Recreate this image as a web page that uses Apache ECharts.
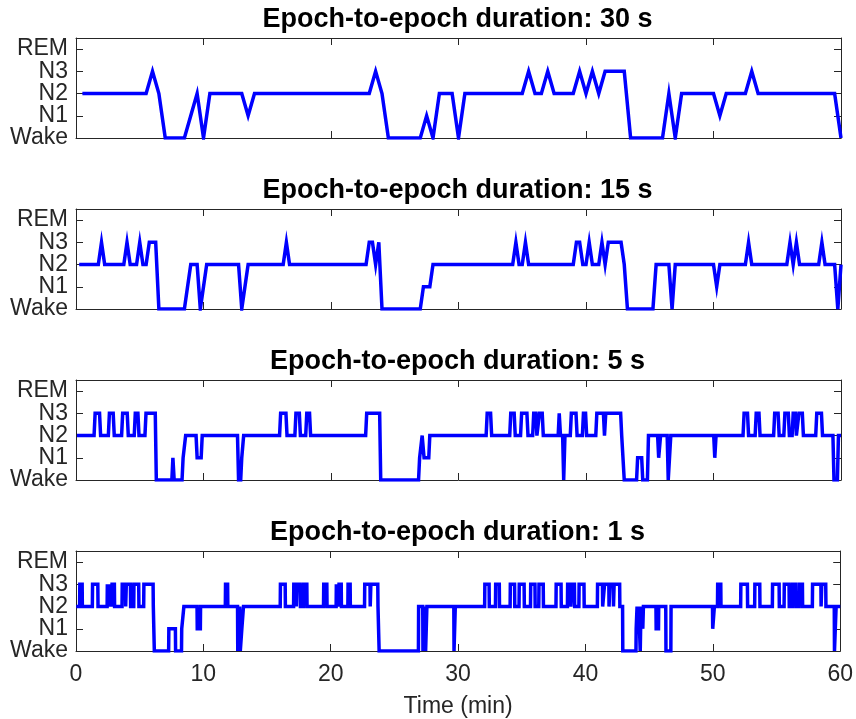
<!DOCTYPE html>
<html>
<head>
<meta charset="utf-8">
<script src="https://cdn.jsdelivr.net/npm/echarts@6/dist/echarts.min.js"></script>
<style>
html,body{margin:0;padding:0;background:#fff;}
#chart{width:856px;height:719px;}
</style>
</head>
<body>
<div id="chart"></div>
<script>
// Sleep stage labels (value index = stage code)
const stageLabels = ['Wake', 'N1', 'N2', 'N3', 'REM'];
const xTicks = [0, 10, 20, 30, 40, 50, 60];
const panelTitles = [
  'Epoch-to-epoch duration: 30 s',
  'Epoch-to-epoch duration: 15 s',
  'Epoch-to-epoch duration: 5 s',
  'Epoch-to-epoch duration: 1 s'
];
// epoch durations in minutes
const epochMinutes = [0.5, 0.25, 5 / 60, 1 / 60];
const sessionEnd = 60;

// Each entry: [time (min) at which the stage starts, stage code]; stage holds until the next entry
const hyp30 = [[0.5,2],[6,3],[6.5,2],[7,0],[9,1],[9.5,2],[10,0],[10.5,2],[13.5,1],[14,2],[23.5,3],[24,2],[24.5,0],
  [27.5,1],[28,0],[28.5,2],[30,0],[30.5,2],[35.5,3],[36,2],[37,3],[37.5,2],[39.5,3],[40,2],[40.5,3],[41,2],
  [41.5,3],[43.5,0],[46.5,2],[47,0],[47.5,2],[50.5,1],[51,2],[53,3],[53.5,2],[60,0]];

const hyp15 = [[0.25,2],[2,3],[2.25,2],[4,3],[4.25,2],[5,3],[5.25,2],[5.75,3],[6.5,0],[8.75,1],[9,2],[9.75,0],
  [10,1],[10.25,2],[13,0],[13.25,1],[13.5,2],[16.5,3],[16.75,2],[23,3],[23.5,2],[23.75,3],[24,0],[27.25,1],
  [28,2],[34.5,3],[34.75,2],[35.25,3],[35.5,2],[39.25,3],[39.75,2],[40.25,3],[40.5,2],[41.25,3],[41.5,2],
  [41.75,3],[43,2],[43.25,0],[45.5,2],[46.75,0],[47,2],[50.25,1],[50.5,2],[52.75,3],[53,2],[56,3],[56.25,2],
  [56.5,3],[56.75,2],[58.5,3],[58.75,2],[59.75,0],[60,2]];

const hyp5 = [[0.08,2],[1.5,3],[1.93,2],[2.62,3],[3.0,2],[3.66,3],[4.1,2],[4.65,3],[4.94,2],[5.49,3],[6.3,0],
  [7.6,1],[7.7,0],[8.4,1],[8.6,2],[9.5,1],[9.9,2],[12.75,0],[13.0,1],[13.15,2],[16.05,3],[16.55,2],[17.25,3],
  [17.6,2],[18.1,3],[18.4,2],[22.8,3],[23.9,0],[26.95,1],[27.15,2],[27.3,1],[27.75,2],[32.25,3],[32.6,2],
  [34.1,3],[34.45,2],[34.95,3],[35.45,2],[35.9,3],[36.15,2],[36.35,3],[36.65,2],[37.9,3],[38.0,2],[38.25,0],
  [38.35,2],[38.85,3],[39.3,2],[39.8,3],[40.05,2],[40.85,3],[41.45,2],[41.55,3],[42.8,2],[43.0,0],[44.05,1],
  [44.45,0],[44.9,2],[45.7,1],[45.85,2],[46.45,0],[46.65,2],[50.1,1],[50.2,2],[52.4,3],[52.75,2],[53.35,3],
  [53.65,2],[54.8,3],[55.15,2],[55.6,3],[55.95,2],[56.25,3],[56.5,2],[56.7,3],[57.05,2],[58.1,3],[58.55,2],
  [59.45,0],[59.8,2]];

const hyp1 = [[0.02,2],[0.3,3],[0.5,2],[1.3,3],[1.73,2],[2.46,3],[2.6,2],[2.65,3],[2.78,2],[2.83,3],[3.03,2],
  [3.63,3],[3.9,2],[3.95,3],[4.29,2],[4.55,3],[4.94,2],[5.33,3],[6.07,2],[6.15,0],[7.29,1],[7.82,0],[8.3,1],
  [8.47,2],[9.52,1],[9.78,2],[11.74,3],[11.92,2],[12.7,0],[12.85,2],[12.9,0],[13.02,1],[13.15,2],[16.05,3],
  [16.44,2],[17.1,3],[17.3,2],[17.35,3],[17.62,2],[17.88,3],[18.14,2],[19.45,3],[19.71,2],[20.44,3],[20.6,2],
  [20.65,3],[20.84,2],[21.36,3],[21.54,2],[22.67,3],[23.1,2],[23.15,3],[23.71,2],[23.8,0],[26.9,2],[27.24,0],
  [27.3,2],[27.45,0],[27.55,2],[29.68,0],[29.78,2],[32.1,3],[32.45,2],[32.95,3],[33.25,2],[34.1,3],[34.45,2],
  [34.8,3],[35.2,2],[35.7,3],[36.05,2],[36.35,3],[36.7,2],[37.7,3],[38.1,2],[38.6,3],[38.85,2],[38.95,3],
  [39.15,2],[39.5,3],[39.9,2],[40.95,3],[41.35,2],[41.5,3],[41.85,2],[41.92,3],[42.2,2],[42.25,3],[42.7,2],
  [42.93,0],[43.98,1],[44.05,2],[44.12,1],[44.18,2],[44.3,0],[44.36,2],[44.5,1],[44.55,2],[45.55,1],[45.75,2],
  [46.32,0],[46.72,2],[49.99,1],[50.12,2],[50.38,3],[50.64,2],[52.2,3],[52.73,2],[53.3,3],[53.7,2],[54.69,3],
  [55.22,2],[55.61,3],[56.0,2],[56.26,3],[56.52,2],[56.79,3],[57.05,2],[57.83,3],[58.5,2],[58.55,3],[58.88,2],
  [59.55,0],[59.68,2]];

const hypnograms = [hyp30, hyp15, hyp5, hyp1];

function buildPoints(changes, epoch, end) {
  const pts = [];
  for (let i = 0; i < changes.length; i++) {
    const s = changes[i][0], v = changes[i][1];
    const e = i < changes.length - 1 ? changes[i + 1][0] - epoch : end;
    pts.push([s, v]);
    if (e > s + 1e-9) pts.push([e, v]);
  }
  return pts;
}

const axisColor = '#262626';
const fontFam = '"Liberation Sans", Arial, Helvetica, sans-serif';
const gridTops = [38, 209, 380, 551];
const gridH = 100;
const L = 76, R = 15;
const tickFont = 23;

function stageFormatter(parity) {
  return function (v) {
    return Number.isInteger(v) && v % 2 === parity && stageLabels[v] ? stageLabels[v] : '';
  };
}

const grids = [], xAxes = [], yAxes = [], series = [], titles = [];
for (let i = 0; i < 4; i++) {
  grids.push({left: L, right: R, top: gridTops[i], height: gridH, containLabel: false});
  const last = i === 3;
  const xBase = {
    gridIndex: i, type: 'value', min: xTicks[0], max: xTicks[xTicks.length - 1], interval: 10,
    axisLine: {show: true, onZero: false, lineStyle: {color: axisColor, width: 1}},
    axisTick: {show: true, inside: true, length: 7, lineStyle: {color: axisColor, width: 1}},
    splitLine: {show: false}
  };
  xAxes.push(Object.assign({}, xBase, {
    position: 'bottom',
    axisLabel: {show: last, color: axisColor, fontSize: tickFont, fontFamily: fontFam, margin: 12,
      showMinLabel: true, showMaxLabel: true},
    name: last ? 'Time (min)' : '', nameLocation: 'middle', nameGap: 44,
    nameTextStyle: {color: axisColor, fontSize: tickFont, fontFamily: fontFam}
  }));
  xAxes.push(Object.assign({}, xBase, {position: 'top', axisLabel: {show: false}}));
  const yBase = {
    gridIndex: i, type: 'value', min: 0, max: 4.5, interval: 1,
    axisLine: {show: true, onZero: false, lineStyle: {color: axisColor, width: 1}},
    axisTick: {show: true, inside: true, length: 7, lineStyle: {color: axisColor, width: 1}},
    splitLine: {show: false}
  };
  // left axis: line, ticks, even stage labels (Wake, N2, REM)
  yAxes.push(Object.assign({}, yBase, {
    position: 'left',
    axisLabel: {show: true, color: axisColor, fontSize: tickFont, fontFamily: fontFam, margin: 8,
      showMinLabel: true, showMaxLabel: true, formatter: stageFormatter(0)}
  }));
  // left axis overlay: odd stage labels (N1, N3)
  yAxes.push(Object.assign({}, yBase, {
    position: 'left',
    axisLine: {show: false}, axisTick: {show: false},
    axisLabel: {show: true, color: axisColor, fontSize: tickFont, fontFamily: fontFam, margin: 8,
      showMinLabel: true, showMaxLabel: true, formatter: stageFormatter(1)}
  }));
  // right mirror axis
  yAxes.push(Object.assign({}, yBase, {position: 'right', axisLabel: {show: false}}));
  series.push({
    type: 'line', xAxisIndex: 2 * i, yAxisIndex: 3 * i,
    data: buildPoints(hypnograms[i], epochMinutes[i], sessionEnd),
    showSymbol: false, symbol: 'none',
    lineStyle: {color: '#0000ff', width: 3.5, join: 'miter'},
    itemStyle: {color: '#0000ff'},
    animation: false, silent: true
  });
  titles.push({
    text: panelTitles[i], left: L + (856 - L - R) / 2 - 6, textAlign: 'center', top: gridTops[i] - 37,
    textStyle: {color: '#000', fontSize: 27, fontWeight: 'bold', fontFamily: fontFam}
  });
}

const chart = echarts.init(document.getElementById('chart'), null, {renderer: 'canvas'});
chart.setOption({
  animation: false,
  backgroundColor: '#fff',
  title: titles,
  grid: grids,
  xAxis: xAxes,
  yAxis: yAxes,
  series: series
});
</script>
</body>
</html>
